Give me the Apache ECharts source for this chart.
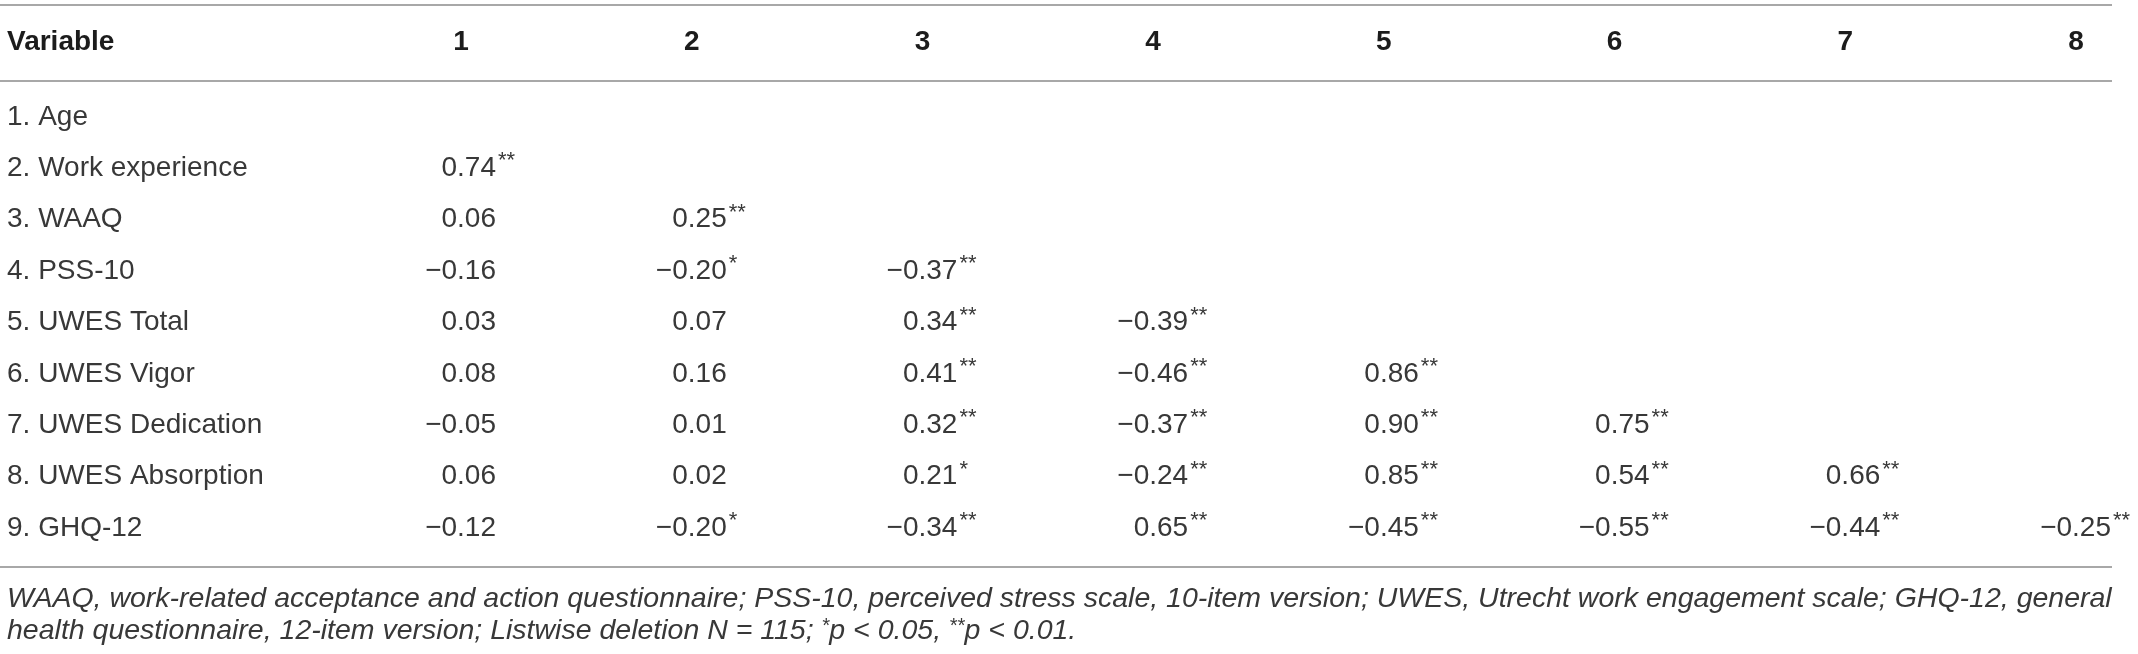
<!DOCTYPE html>
<html>
<head>
    <meta charset="utf-8">
    <title>Correlation table</title>
    <script src="https://cdn.jsdelivr.net/npm/echarts@6.0.0/dist/echarts.min.js"></script>
    <style>
        body, html { margin: 0; padding: 0; width: 100%; height: 100%; overflow: hidden; background: #fff; }
        #main { width: 2138px; height: 654px; }
    </style>
</head>
<body>
    <div id="main"></div>
    <script type="text/javascript">
        // table content
        var variables = ['1. Age', '2. Work experience', '3. WAAQ', '4. PSS-10', '5. UWES Total',
            '6. UWES Vigor', '7. UWES Dedication', '8. UWES Absorption', '9. GHQ-12'];
        var columns = ['1', '2', '3', '4', '5', '6', '7', '8'];
        var rValues = [
            [],
            [0.74],
            [0.06, 0.25],
            [-0.16, -0.20, -0.37],
            [0.03, 0.07, 0.34, -0.39],
            [0.08, 0.16, 0.41, -0.46, 0.86],
            [-0.05, 0.01, 0.32, -0.37, 0.90, 0.75],
            [0.06, 0.02, 0.21, -0.24, 0.85, 0.54, 0.66],
            [-0.12, -0.20, -0.34, 0.65, -0.45, -0.55, -0.44, -0.25]
        ];
        var rStars = [
            [],
            ['**'],
            ['', '**'],
            ['', '*', '**'],
            ['', '', '**', '**'],
            ['', '', '**', '**', '**'],
            ['', '', '**', '**', '**', '**'],
            ['', '', '*', '**', '**', '**', '**'],
            ['', '*', '**', '**', '**', '**', '**', '**']
        ];
        var noteLine1 = 'WAAQ, work-related acceptance and action questionnaire; PSS-10, perceived stress scale, 10-item version; UWES, Utrecht work engagement scale; GHQ-12, general';
        var noteLine2 = ['health questionnaire, 12-item version; Listwise deletion N = 115; ', '*', 'p < 0.05, ', '**', 'p < 0.01.'];

        var FONT = '"Liberation Sans", Arial, sans-serif';
        var TEXT = '#383838';
        var RULE = '#a8a8a8';

        function fmt(v) {
            return v.toFixed(2).replace('-', '\u2212');
        }

        var cells = [];
        rValues.forEach(function (row, i) {
            row.forEach(function (v, j) {
                cells.push([j + 1, i, fmt(v), rStars[i][j]]);
            });
        });

        var myChart = echarts.init(document.getElementById('main'));

        var option = {
            backgroundColor: '#fff',
            animation: false,
            grid: { left: 461, right: 62, top: 117, bottom: 126 },
            xAxis: {
                type: 'value', position: 'top', min: 1, max: 8, interval: 1,
                axisLine: { show: false }, axisTick: { show: false }, splitLine: { show: false },
                axisLabel: {
                    margin: 75, verticalAlign: 'middle', showMinLabel: true, showMaxLabel: true,
                    fontFamily: FONT, fontSize: 28, fontWeight: 'bold', color: '#1c1c1c',
                    formatter: function (v) { return columns[v - 1]; }
                }
            },
            yAxis: {
                type: 'category', data: variables, inverse: true, boundaryGap: false,
                axisLine: { show: false }, axisTick: { show: false }, splitLine: { show: false },
                axisLabel: {
                    interval: 0, align: 'left', margin: 454,
                    fontFamily: FONT, fontSize: 28, color: TEXT
                }
            },
            series: [{
                type: 'custom',
                data: cells,
                encode: { x: 0, y: 1 },
                renderItem: function (params, api) {
                    var p = api.coord([api.value(0), api.value(1)]);
                    var d = cells[params.dataIndex];
                    return {
                        type: 'group',
                        children: [{
                            type: 'text',
                            style: {
                                text: d[2], x: p[0] + 35, y: p[1],
                                align: 'right', verticalAlign: 'middle',
                                fontFamily: FONT, fontSize: 28, fill: TEXT
                            }
                        }, {
                            type: 'text',
                            style: {
                                text: d[3], x: p[0] + 37, y: p[1] - 7,
                                align: 'left', verticalAlign: 'middle',
                                fontFamily: FONT, fontSize: 22, fill: TEXT
                            }
                        }]
                    };
                }
            }],
            graphic: [
                { type: 'rect', shape: { x: 0, y: 4, width: 2112, height: 2 }, style: { fill: RULE } },
                { type: 'rect', shape: { x: 0, y: 80, width: 2112, height: 2 }, style: { fill: RULE } },
                { type: 'rect', shape: { x: 0, y: 566, width: 2112, height: 2 }, style: { fill: RULE } },
                {
                    type: 'text', left: 7, top: 28,
                    style: { text: 'Variable', fontFamily: FONT, fontSize: 28, fontWeight: 'bold', fill: '#1c1c1c' }
                },
                {
                    type: 'text', left: 7, top: 585,
                    style: { text: noteLine1, fontFamily: FONT, fontSize: 28.5, fontStyle: 'italic', fill: TEXT }
                },
                {
                    type: 'text', left: 7, top: 616,
                    style: {
                        text: '{i|' + noteLine2[0] + '}{s|' + noteLine2[1] + '}{i|' + noteLine2[2] + '}{s|' + noteLine2[3] + '}{i|' + noteLine2[4] + '}',
                        rich: {
                            i: { fontFamily: FONT, fontSize: 28.5, fontStyle: 'italic', fill: TEXT, color: TEXT, lineHeight: 31 },
                            s: { fontFamily: FONT, fontSize: 20, fontStyle: 'italic', fill: TEXT, color: TEXT, lineHeight: 20, verticalAlign: 'top' }
                        }
                    }
                }
            ]
        };

        myChart.setOption(option);
    </script>
</body>
</html>
